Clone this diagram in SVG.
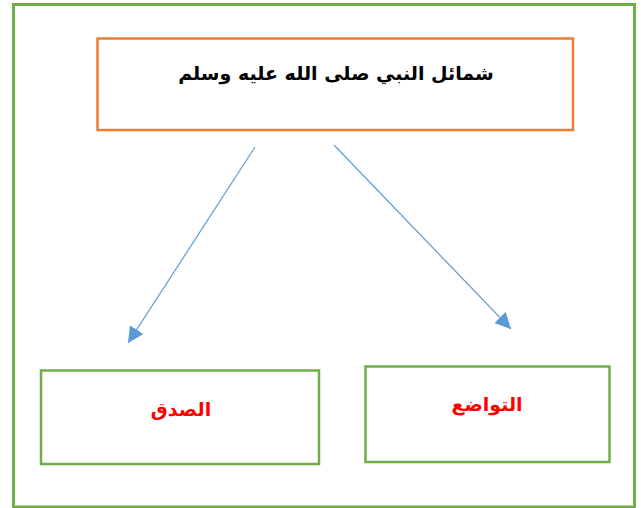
<svg xmlns="http://www.w3.org/2000/svg" width="641" height="508" viewBox="0 0 641 508">
<defs>
<marker id="arr" viewBox="0 0 10 10" refX="10" refY="5" markerWidth="16" markerHeight="16" markerUnits="userSpaceOnUse" orient="auto">
<path d="M0,0 L10,5 L0,10 z" fill="#5B9BD5"/>
</marker>
<style>
.g{fill:#fff;stroke:#70AD47;stroke-width:2.5}
.t{font-family:"DejaVu Sans","Liberation Sans",sans-serif;font-weight:bold;text-anchor:middle}
.r{fill:#FF0000;font-size:19px}
.c{stroke:#5B9BD5;stroke-width:1.2;fill:none}
</style>
</defs>
<rect width="641" height="508" fill="#fff"/>
<rect x="13.5" y="4.5" width="621" height="502.5" fill="none" stroke="#70AD47" stroke-width="3"/>
<g id="root">
<rect x="97.5" y="38.5" width="475.5" height="91.5" fill="#fff" stroke="#ED7D31" stroke-width="2.5"/>
<text class="t" x="336" y="80" font-size="19" fill="#000" direction="rtl">شمائل النبي صلى الله عليه وسلم</text>
</g>
<g id="sidq">
<rect class="g" x="41" y="370.5" width="278" height="93.5"/>
<text class="t r" x="181" y="416" direction="rtl">الصدق</text>
</g>
<g id="tawadu">
<rect class="g" x="365.5" y="366.5" width="244" height="95.5"/>
<text class="t r" x="487" y="411" direction="rtl">التواضع</text>
</g>
<g id="connectors">
<line class="c" x1="255" y1="147" x2="128" y2="343" marker-end="url(#arr)"/>
<line class="c" x1="334" y1="145" x2="511" y2="329" marker-end="url(#arr)"/>
</g>
</svg>
